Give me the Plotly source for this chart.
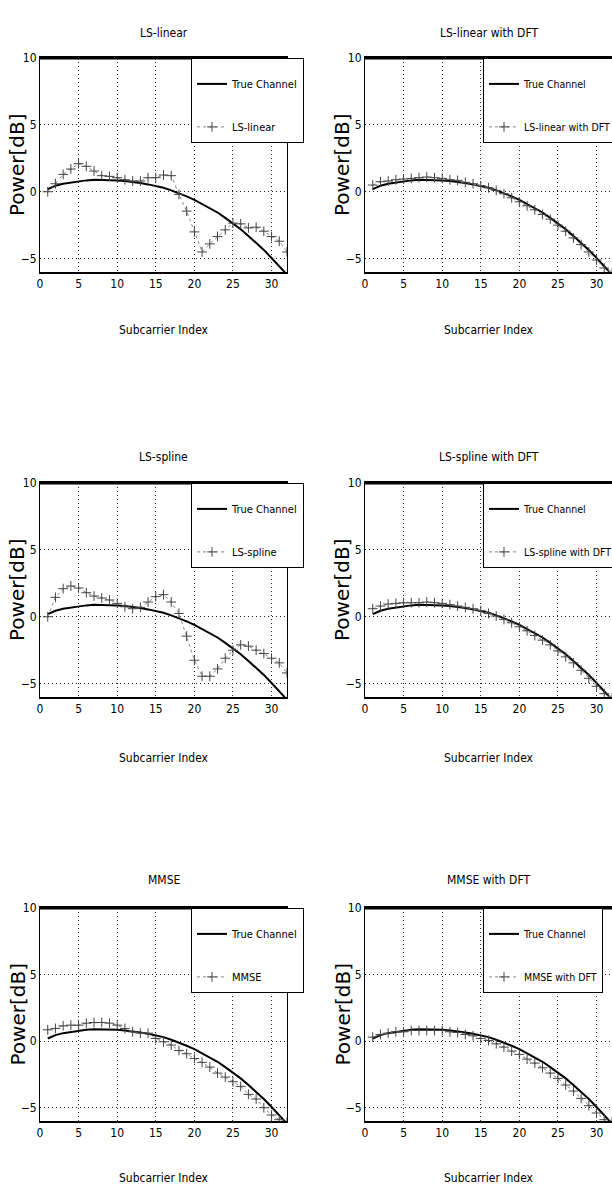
import plotly.graph_objects as go

# ---------------- data ----------------
subcarriers = list(range(1, 33))

true_channel = [0.2, 0.45, 0.6, 0.7, 0.8, 0.85, 0.9, 0.9, 0.9, 0.85, 0.8, 0.75,
                0.65, 0.55, 0.45, 0.3, 0.1, -0.1, -0.35, -0.6, -0.9, -1.2, -1.55,
                -1.95, -2.35, -2.8, -3.3, -3.8, -4.35, -4.95, -5.55, -6.2]

ls_linear = [0.0, 0.6, 1.3, 1.7, 2.1, 1.9, 1.55, 1.2, 1.15, 1.05, 0.9, 0.8,
             0.8, 1.05, 1.05, 1.25, 1.2, -0.2, -1.45, -3.0, -4.5, -3.9, -3.35,
             -2.85, -2.35, -2.4, -2.7, -2.65, -2.95, -3.35, -3.7, -4.5]

ls_linear_dft = [0.5, 0.75, 0.8, 0.9, 0.95, 1.0, 1.05, 1.1, 1.05, 1.0, 0.9, 0.85,
                 0.7, 0.6, 0.45, 0.3, 0.1, -0.15, -0.45, -0.75, -1.05, -1.35, -1.7,
                 -2.05, -2.5, -2.95, -3.45, -3.95, -4.5, -5.1, -5.7, -6.1]

ls_spline = [0.0, 1.45, 2.1, 2.3, 2.15, 1.8, 1.55, 1.4, 1.25, 1.0, 0.75, 0.6,
             0.7, 1.1, 1.5, 1.65, 1.1, 0.25, -1.45, -3.25, -4.45, -4.45, -3.9,
             -3.1, -2.5, -2.1, -2.2, -2.5, -2.75, -3.1, -3.45, -4.2]

ls_spline_dft = [0.6, 0.8, 0.95, 1.0, 1.05, 1.05, 1.05, 1.1, 1.05, 1.0, 0.9, 0.8,
                 0.7, 0.6, 0.45, 0.25, 0.05, -0.2, -0.45, -0.75, -1.05, -1.4, -1.75,
                 -2.1, -2.55, -3.0, -3.45, -4.0, -4.6, -5.2, -5.75, -6.1]

mmse = [0.85, 0.95, 1.15, 1.2, 1.2, 1.35, 1.4, 1.4, 1.35, 1.2, 0.95, 0.7,
        0.6, 0.6, 0.2, -0.05, -0.3, -0.7, -0.95, -1.3, -1.6, -1.95, -2.4,
        -2.7, -3.05, -3.4, -4.0, -4.35, -5.0, -5.55, -5.9, -6.1]

mmse_dft = [0.3, 0.5, 0.6, 0.7, 0.7, 0.8, 0.8, 0.8, 0.8, 0.8, 0.7, 0.65,
            0.5, 0.4, 0.2, 0.05, -0.2, -0.45, -0.75, -1.0, -1.35, -1.65, -2.0,
            -2.4, -2.8, -3.3, -3.75, -4.3, -4.85, -5.4, -5.9, -6.1]

panel_titles = ["LS-linear", "LS-linear with DFT", "LS-spline", "LS-spline with DFT",
                "MMSE", "MMSE with DFT"]
panel_series = [ls_linear, ls_linear_dft, ls_spline, ls_spline_dft, mmse, mmse_dft]

x_tickvals = [0, 5, 10, 15, 20, 25, 30]
y_tickvals = [-5, 0, 5, 10]
x_label = "Subcarrier Index"
y_label = "Power[dB]"
true_name = "True Channel"

# ---------------- layout geometry (pixels) ----------------
W, H = 612, 1191
col_px = [(40, 287), (365, 612)]
row_px = [(58, 272), (483, 697), (908, 1121)]
title_shift = [25, 26, 28]
xlabel_shift = [-58, -61, -57]
legend_left = [191, 483]
legend_size = [11, 10.5]

NARROW = "Liberation Sans Narrow, DejaVu Sans Condensed, Arial Narrow, Roboto, sans-serif"
WIDE = "DejaVu Sans, Verdana, sans-serif"
GRID_DASH = "1px,3px"

fig = go.Figure()
layout = dict(
    width=W, height=H,
    margin=dict(l=0, r=0, t=0, b=0, autoexpand=False),
    paper_bgcolor="white", plot_bgcolor="white",
    showlegend=True,
    font=dict(family=NARROW, size=12, color="black"),
)
annotations = []
shapes = []

for i in range(6):
    r, c = divmod(i, 2)
    k = i + 1
    sfx = "" if k == 1 else str(k)
    xa, ya = "x" + sfx, "y" + sfx
    lg = "legend" + sfx
    x0, x1 = col_px[c]
    y0, y1 = row_px[r]

    layout["xaxis" + sfx] = dict(
        domain=[x0 / W, x1 / W], anchor=ya, range=[0, 32],
        tickvals=x_tickvals, showgrid=True, gridcolor="#222222", gridwidth=1,
        griddash=GRID_DASH, zeroline=False, showline=True, linecolor="black",
        linewidth=2, mirror=True, ticks="", tickfont=dict(family=NARROW, size=12),
    )
    layout["yaxis" + sfx] = dict(
        domain=[1 - y1 / H, 1 - y0 / H], anchor=xa, range=[-6, 10],
        tickvals=y_tickvals, showgrid=True, gridcolor="#222222", gridwidth=1,
        griddash=GRID_DASH, zeroline=False, showline=True, linecolor="black",
        linewidth=1, mirror=True, ticks="", tickfont=dict(family=NARROW, size=12),
    )
    layout[lg] = dict(
        x=legend_left[c] / W, y=1 - y0 / H, xanchor="left", yanchor="top",
        bgcolor="white", bordercolor="black", borderwidth=1,
        font=dict(family=NARROW, size=legend_size[c], color="black"),
        title=dict(text=" ", font=dict(size=8)),
        traceorder="grouped", tracegroupgap=24, itemwidth=30,
    )

    fig.add_trace(go.Scatter(
        x=subcarriers, y=true_channel, mode="lines", name=true_name,
        line=dict(color="black", width=2), xaxis=xa, yaxis=ya,
        legend=lg, legendgroup=f"t{k}",
    ))
    fig.add_trace(go.Scatter(
        x=subcarriers, y=panel_series[i], mode="lines+markers",
        name=panel_titles[i],
        line=dict(color="#888888", width=1, dash="dot"),
        marker=dict(symbol="cross-thin", size=7, line=dict(color="#444444", width=1),
                    color="#444444"),
        xaxis=xa, yaxis=ya, legend=lg, legendgroup=f"e{k}",
    ))

    # thick top border
    shapes.append(dict(type="line", xref=xa + " domain", yref=ya + " domain",
                       x0=0, x1=1, y0=1, y1=1, line=dict(color="black", width=3)))

    # title
    annotations.append(dict(text=panel_titles[i], xref=xa + " domain", yref=ya + " domain",
                            x=0.5, y=1, yshift=title_shift[r], showarrow=False,
                            yanchor="middle", font=dict(family=NARROW, size=12)))
    # x label
    annotations.append(dict(text=x_label, xref=xa + " domain", yref=ya + " domain",
                            x=0.5, y=0, yshift=xlabel_shift[r], showarrow=False,
                            yanchor="middle", font=dict(family=NARROW, size=12)))
    # y label
    annotations.append(dict(text=y_label, xref=xa + " domain", yref=ya + " domain",
                            x=0, y=0.5, xshift=-23, showarrow=False, textangle=-90,
                            xanchor="center", yanchor="middle",
                            font=dict(family=WIDE, size=20)))

layout["annotations"] = annotations
layout["shapes"] = shapes
fig.update_layout(**layout)
fig.write_html(
    "out.html",
    config={"displayModeBar": False},
    post_script="document.body.style.margin='0px';document.body.style.overflow='hidden';",
)
